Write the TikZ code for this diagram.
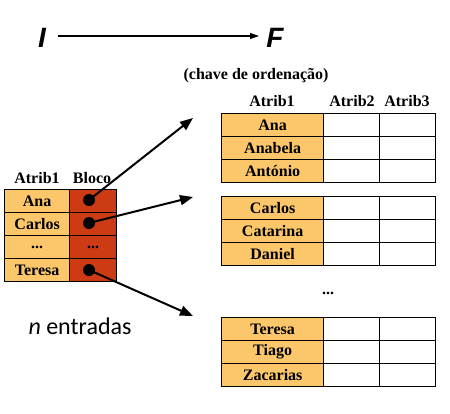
\documentclass[tikz,border=0pt]{standalone}
\usepackage{fontspec}
\setmainfont{Liberation Serif}
\newfontfamily\hsans{Liberation Sans}
\newfontfamily\carl{Carlito}
\usetikzlibrary{arrows.meta}
\definecolor{org}{HTML}{FCC76B}
\definecolor{blk}{HTML}{CC3B14}
\begin{document}
\begin{tikzpicture}[x=1pt,y=-1pt,
  cell/.style={draw=black, line width=1.3pt, minimum height=23pt, inner sep=0pt, anchor=north west, font=\fontsize{16}{16}\selectfont\bfseries},
  keyc/.style={cell, fill=org, minimum width=102pt},
  emptyc/.style={cell, fill=white, minimum width=56pt},
  lkey/.style={cell, fill=org, minimum width=65pt},
  lblk/.style={cell, fill=blk, minimum width=47pt},
  hdr/.style={font=\fontsize{16}{16}\selectfont\bfseries, inner sep=0pt},
  dot/.style={circle, fill=black, minimum size=12pt, inner sep=0pt},
  ptr/.style={line width=2pt, -{Triangle[length=13pt,width=10pt]}}
]
\useasboundingbox (0,0) rectangle (450,413);

% I -> F
\node[font=\hsans\fontsize{28}{28}\selectfont\bfseries\itshape, inner sep=0pt] (I) at (42,38) {I};
\node[font=\hsans\fontsize{28}{28}\selectfont\bfseries\itshape, inner sep=0pt] (F) at (275,38) {F};
\coordinate (Is) at (58,36);
\coordinate (Fe) at (259,36);
\draw[line width=1.2pt, -{Triangle[length=9pt,width=6pt]}] (Is) -- (Fe);

% left index table
\node[hdr] (lh1) at (37,178) {Atrib1};
\node[hdr] (lh2) at (92,178) {Bloco};
\node[lkey] (l1) at (4,189) {Ana};
\node[lblk] (b1) at (69,189) {};
\node[lkey] (l2) at (4,212) {Carlos};
\node[lblk] (b2) at (69,212) {};
\node[lkey] (l3) at (4,235) {...};
\node[lblk] (b3) at (69,235) {...};
\node[lkey] (l4) at (4,258) {Teresa};
\node[lblk] (b4) at (69,258) {};
\node[dot] (d1) at (89,200) {};
\node[dot] (d2) at (89,223) {};
\node[dot] (d4) at (89,270) {};

\node[font=\carl\fontsize{24}{24}\selectfont, inner sep=0pt] (n) at (80,326) {\textit{n} entradas};

% right file
\node[hdr] (ch) at (256,76) {(chave de ordenação)};
\node[hdr] (rh1) at (272,101) {Atrib1};
\node[hdr] (rh2) at (352,101) {Atrib2};
\node[hdr] (rh3) at (407,101) {Atrib3};

% block 1
\node[keyc] (k11) at (221,113) {Ana};
\node[emptyc] at (323,113) {};
\node[emptyc] at (379,113) {};
\node[keyc] (k12) at (221,136) {Anabela};
\node[emptyc] at (323,136) {};
\node[emptyc] at (379,136) {};
\node[keyc] (k13) at (221,159) {António};
\node[emptyc] at (323,159) {};
\node[emptyc] at (379,159) {};

% block 2
\node[keyc] (k21) at (221,196) {Carlos};
\node[emptyc] at (323,196) {};
\node[emptyc] at (379,196) {};
\node[keyc] (k22) at (221,219) {Catarina};
\node[emptyc] at (323,219) {};
\node[emptyc] at (379,219) {};
\node[keyc] (k23) at (221,242) {Daniel};
\node[emptyc] at (323,242) {};
\node[emptyc] at (379,242) {};

\node[hdr] (rdots) at (328,293) {...};

% block 3
\node[keyc] (k31) at (221,317) {Teresa};
\node[emptyc] at (323,317) {};
\node[emptyc] at (379,317) {};
\node[keyc] (k32) at (221,340) {Tiago};
\node[emptyc] at (323,340) {};
\node[emptyc] at (379,340) {};
\node[keyc] (k33) at (221,363) {Zacarias};
\node[emptyc] at (323,363) {};
\node[emptyc] at (379,363) {};

% pointers
\coordinate (t1) at (193,118);
\coordinate (t2) at (193,197);
\coordinate (t4) at (193,316);
\draw[ptr] (d1.center) -- (t1);
\draw[ptr] (d2.center) -- (t2);
\draw[ptr] (d4.center) -- (t4);
\end{tikzpicture}
\end{document}
